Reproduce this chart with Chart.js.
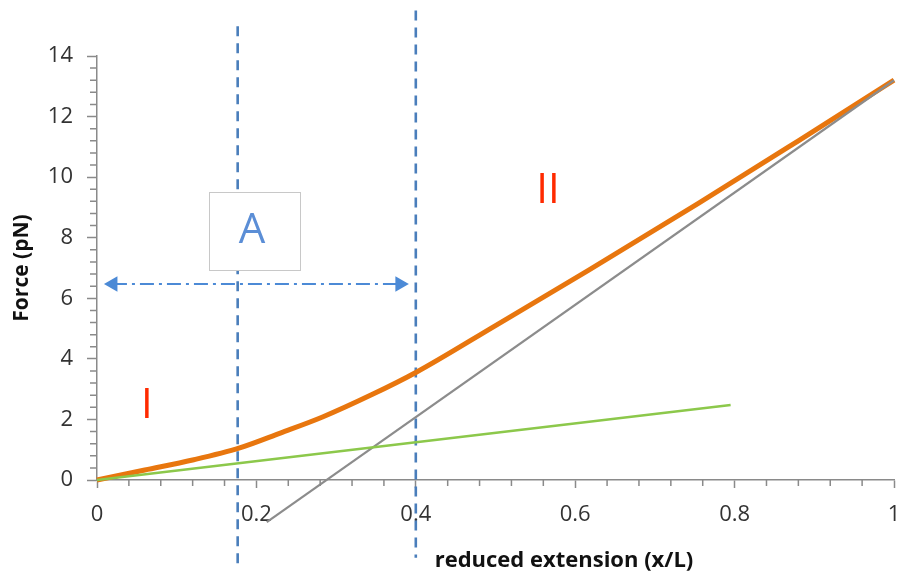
<!DOCTYPE html>
<html>
<head>
<meta charset="utf-8">
<script src="https://cdn.jsdelivr.net/npm/chart.js@4"></script>
<style>
  html, body { margin: 0; padding: 0; background: #fff; }
  #myChart { display: block; }
</style>
</head>
<body>
<canvas id="myChart" width="903" height="575"></canvas>
<script>
// force curve (orange)
const forceX = [0, 0.06, 0.12, 0.179, 0.23, 0.283, 0.345, 0.4, 0.5, 0.617, 0.755, 0.88, 1];
const forceY = [0, 0.33, 0.66, 1.06, 1.55, 2.08, 2.82, 3.55, 5.1, 6.93, 9.14, 11.2, 13.2];
// high force asymptote (gray)
const asymX = [0.213, 1];
const asymY = [-1.39, 13.2];
// low force linear regime (green)
const linX = [0, 0.795];
const linY = [0, 2.48];
// dashed markers
const markerX = [0.1765, 0.4];
const markerTop = [14.98, 15.5];
const markerBottom = [-2.8, -2.57];
// double arrow
const arrowX = [0.02, 0.38];
const arrowY = 6.47;
// text box A
const boxX = [0.14, 0.254];
const boxY = [9.5, 6.93];
// region labels
const regionText = ['I', 'II'];
const regionX = [0.0625, 0.566];
const regionY = [2.43, 9.55];

const xTitle = 'reduced extension (x/L)';
const yTitle = 'Force (pN)';
const FONT = "'Open Sans', sans-serif";

function pts(xs, ys) {
    return xs.map((x, i) => ({ x: x, y: ys[i] }));
}

const datasets = [
    { data: pts(linX, linY), borderColor: '#8CC84B', borderWidth: 2.5 },
    { data: pts(asymX, asymY), borderColor: '#8C8C8C', borderWidth: 2.2 },
    { data: pts(forceX, forceY), borderColor: '#E8760E', borderWidth: 5, cubicInterpolationMode: 'monotone' }
];
markerX.forEach((x, i) => {
    datasets.push({
        data: [{ x: x, y: markerTop[i] }, { x: x, y: markerBottom[i] }],
        borderColor: '#4A7EBB', borderWidth: 2.6, borderDash: [10, 7]
    });
});
datasets.push({
    data: pts(arrowX, [arrowY, arrowY]),
    borderColor: '#4C8AD6', borderWidth: 2, borderDash: [14, 5, 3, 5],
    pointStyle: 'triangle', pointRadius: 9, pointRotation: [270, 90],
    pointBackgroundColor: '#4C8AD6', pointBorderWidth: 0
});
datasets.forEach(d => {
    d.showLine = true;
    d.clip = false;
    d.fill = false;
    if (d.pointRadius === undefined) d.pointRadius = 0;
});

const isMajorX = v => Math.round(v * 100) % 20 === 0;
const isMajorY = v => Math.round(v * 10) % 20 === 0;
const noPad = () => ({ left: 0, top: 0, right: 0, bottom: 0 });

const minorTicks = {
    id: 'minorTicks',
    afterDraw(chart) {
        const ctx = chart.ctx;
        const xs = chart.scales.x, ys = chart.scales.y;
        ctx.save();
        ctx.strokeStyle = '#8A8A8A';
        ctx.lineWidth = 1.5;
        ctx.beginPath();
        xs.ticks.forEach(t => {
            if (isMajorX(t.value)) return;
            const px = xs.getPixelForValue(t.value);
            ctx.moveTo(px, xs.top);
            ctx.lineTo(px, xs.top + 6);
        });
        ys.ticks.forEach(t => {
            if (isMajorY(t.value)) return;
            const py = ys.getPixelForValue(t.value);
            ctx.moveTo(ys.right, py);
            ctx.lineTo(ys.right - 7, py);
        });
        ctx.stroke();
        ctx.restore();
    }
};

const notes = {
    id: 'notes',
    afterDatasetsDraw(chart) {
        const ctx = chart.ctx;
        const xs = chart.scales.x, ys = chart.scales.y;
        ctx.save();
        // box with A
        const x0 = xs.getPixelForValue(boxX[0]), x1 = xs.getPixelForValue(boxX[1]);
        const y0 = ys.getPixelForValue(boxY[0]), y1 = ys.getPixelForValue(boxY[1]);
        ctx.fillStyle = '#fff';
        ctx.fillRect(x0, y0, x1 - x0, y1 - y0);
        ctx.strokeStyle = '#C8C8C8';
        ctx.lineWidth = 1;
        ctx.strokeRect(Math.round(x0) + 0.5, Math.round(y0) + 0.5, Math.round(x1 - x0), Math.round(y1 - y0));
        ctx.fillStyle = '#5B8ED6';
        ctx.font = '42px ' + FONT;
        ctx.textAlign = 'center';
        ctx.textBaseline = 'middle';
        ctx.fillText('A', (x0 + x1) / 2 - 2, (y0 + y1) / 2);
        // region labels
        ctx.fillStyle = '#FF2A00';
        regionText.forEach((t, i) => {
            ctx.fillText(t, xs.getPixelForValue(regionX[i]), ys.getPixelForValue(regionY[i]));
        });
        // x axis title
        ctx.fillStyle = '#111';
        ctx.font = 'bold 22px ' + FONT;
        ctx.fillText(xTitle, 564, 561);
        ctx.restore();
    }
};

new Chart(document.getElementById('myChart'), {
    type: 'scatter',
    data: { datasets: datasets },
    options: {
        responsive: false,
        animation: false,
        devicePixelRatio: 1,
        layout: { padding: { top: 56, right: 7, bottom: 0, left: 0 } },
        plugins: { legend: { display: false }, tooltip: { enabled: false } },
        elements: { line: { tension: 0 } },
        scales: {
            x: {
                type: 'linear', min: 0, max: 1,
                afterFit: s => { s.height = 95; s.getPadding = noPad; },
                border: { display: true, color: '#8A8A8A', width: 1.5 },
                grid: {
                    drawOnChartArea: false, drawTicks: true, tickLength: 8,
                    tickWidth: 1.5,
                    tickColor: c => isMajorX(c.tick.value) ? '#8A8A8A' : 'rgba(0,0,0,0)'
                },
                ticks: {
                    stepSize: 0.04, autoSkip: false, maxRotation: 0, padding: 14,
                    color: '#333', font: { family: FONT, size: 22 },
                    callback: v => isMajorX(v) ? String(Math.round(v * 10) / 10) : ''
                }
            },
            y: {
                type: 'linear', min: 0, max: 14,
                afterFit: s => { s.width = 97; s.getPadding = noPad; },
                border: { display: true, color: '#8A8A8A', width: 1.5 },
                grid: {
                    drawOnChartArea: false, drawTicks: true, tickLength: 10,
                    tickWidth: 1.5,
                    tickColor: c => isMajorY(c.tick.value) ? '#8A8A8A' : 'rgba(0,0,0,0)'
                },
                ticks: {
                    stepSize: 0.4, autoSkip: false, padding: 14,
                    color: '#333', font: { family: FONT, size: 22 },
                    callback: v => isMajorY(v) ? String(Math.round(v)) : ''
                },
                title: {
                    display: true, text: yTitle, color: '#111',
                    font: { family: FONT, size: 21, weight: 'bold' },
                    padding: { top: 9, bottom: 0 }
                }
            }
        }
    },
    plugins: [minorTicks, notes]
});
</script>
</body>
</html>
